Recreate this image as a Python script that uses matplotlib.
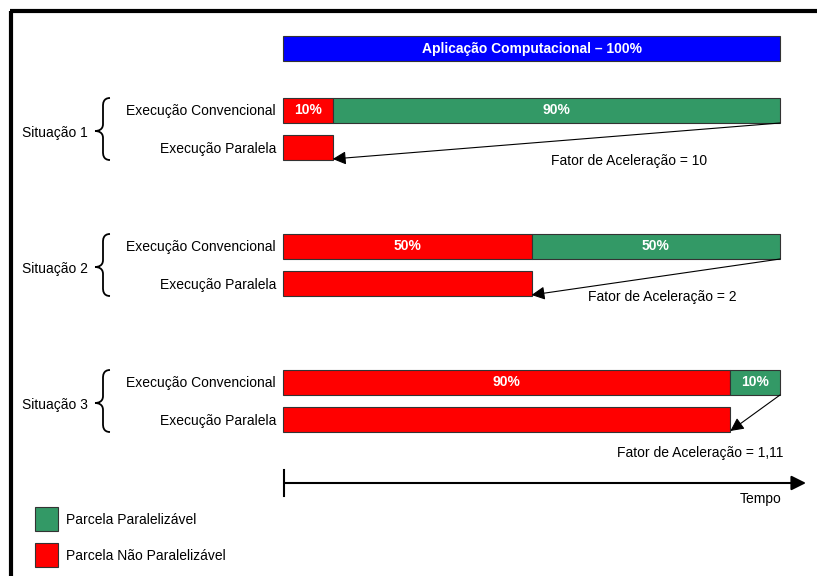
import matplotlib
matplotlib.use("Agg")
import matplotlib.pyplot as plt
from matplotlib.path import Path
from matplotlib.patches import PathPatch, Rectangle

plt.rcParams['font.family'] = ['Liberation Sans', 'DejaVu Sans']

# ---- data ----
situacoes = ['Situação 1', 'Situação 2', 'Situação 3']
nao_paralelizavel = [10, 50, 90]   # % not parallelisable (red)
paralelizavel = [90, 50, 10]       # % parallelisable (green)
fatores = ['10', '2', '1,11']
total_label = 'Aplicação Computacional – 100%'
row_labels = ['Execução Convencional', 'Execução Paralela']
legend_labels = ['Parcela Paralelizável', 'Parcela Não Paralelizável']

RED = '#FF0000'
GREEN = '#339966'
BLUE = '#0000FF'
EDGE = '#333333'
FS = 10

W, H = 817, 576
fig = plt.figure(figsize=(W / 100, H / 100), dpi=100)
ax = fig.add_axes([0, 0, 1, 1])
ax.set_xlim(0, W)
ax.set_ylim(H, 0)
ax.axis('off')

# bar axes: x in percent of total execution time
x0, x1 = 283, 780
bx = fig.add_axes([x0 / W, 0, (x1 - x0) / W, 1])
bx.set_xlim(0, 100)
bx.set_ylim(H, 0)
bx.axis('off')
bx.patch.set_visible(False)

# border (top and left visible)
ax.plot([11, 11], [11, H + 5], color='black', lw=3, solid_capstyle='butt')
ax.plot([10, W + 5], [11, 11], color='black', lw=3, solid_capstyle='butt')

bh = 25
dy = 1.5  # text baseline tweak
# total bar
bx.barh(48.5, 100, height=bh, color=BLUE, edgecolor=EDGE, linewidth=0.8, clip_on=False)
bx.text(50, 48.5 + 0.5, total_label, color='white', fontsize=FS, fontweight='bold',
        ha='center', va='center')

conv_tops = [98, 234, 370]
par_tops = [135, 271, 407]
fator_x = [551, 588, 617]
fator_y = [160, 296, 451]

for i, sit in enumerate(situacoes):
    cy = conv_tops[i] + bh / 2
    py = par_tops[i] + bh / 2
    r = nao_paralelizavel[i]
    g = paralelizavel[i]
    bx.barh(cy, r, left=0, height=bh, color=RED, edgecolor=EDGE, linewidth=0.8, clip_on=False)
    bx.barh(cy, g, left=r, height=bh, color=GREEN, edgecolor=EDGE, linewidth=0.8, clip_on=False)
    bx.text(r / 2, cy, f'{r}%', color='white', fontsize=FS, fontweight='bold',
            ha='center', va='center')
    bx.text(r + g / 2, cy, f'{g}%', color='white', fontsize=FS, fontweight='bold',
            ha='center', va='center')
    bx.barh(py, r, left=0, height=bh, color=RED, edgecolor=EDGE, linewidth=0.8, clip_on=False)
    # arrow from end of conventional to end of parallel
    bx.annotate('', xy=(r, par_tops[i] + bh - 1), xytext=(100, conv_tops[i] + bh),
                arrowprops=dict(arrowstyle='-|>', color='black', lw=0.8,
                                mutation_scale=20, shrinkA=0, shrinkB=0))
    ax.text(fator_x[i], fator_y[i] + dy, f'Fator de Aceleração = {fatores[i]}',
            fontsize=FS, ha='left', va='center')

    # row labels
    ax.text(276, cy + dy - 1, row_labels[0], fontsize=FS, ha='right', va='center')
    ax.text(276, py + dy, row_labels[1], fontsize=FS, ha='right', va='center')

    # brace
    top = conv_tops[i]
    bot = par_tops[i] + bh
    mid = (top + bot) / 2 + 2
    xr, xm, xt = 110, 103, 95
    verts = [(xr, top), (xm, top), (xm, top + 6), (xm, top + 8),
             (xm, mid - 7),
             (xm, mid - 1), (xt + 3, mid), (xt, mid),
             (xt + 3, mid), (xm, mid + 1), (xm, mid + 7),
             (xm, bot - 8),
             (xm, bot - 6), (xm, bot), (xr, bot)]
    codes = [Path.MOVETO, Path.CURVE4, Path.CURVE4, Path.CURVE4,
             Path.LINETO,
             Path.CURVE4, Path.CURVE4, Path.CURVE4,
             Path.CURVE4, Path.CURVE4, Path.CURVE4,
             Path.LINETO,
             Path.CURVE4, Path.CURVE4, Path.CURVE4]
    ax.add_patch(PathPatch(Path(verts, codes), facecolor='none',
                           edgecolor='black', lw=1.3))
    ax.text(88, mid + dy, sit, fontsize=FS, ha='right', va='center')

# time axis
ax.annotate('', xy=(806, 483), xytext=(284, 483),
            arrowprops=dict(arrowstyle='-|>', color='black', lw=1.5,
                            mutation_scale=22, shrinkA=0, shrinkB=0))
ax.plot([284, 284], [470, 496], color='black', lw=1.5)
ax.text(782, 497 + dy, 'Tempo', fontsize=FS, ha='right', va='center')

# legend
for (yy, col, lab) in [(507, GREEN, legend_labels[0]), (543, RED, legend_labels[1])]:
    ax.add_patch(Rectangle((35, yy), 23, 24, facecolor=col, edgecolor=EDGE, lw=0.8))
    ax.text(66, yy + 12 + dy, lab, fontsize=FS, ha='left', va='center')

fig.savefig('out.png', dpi=100)
